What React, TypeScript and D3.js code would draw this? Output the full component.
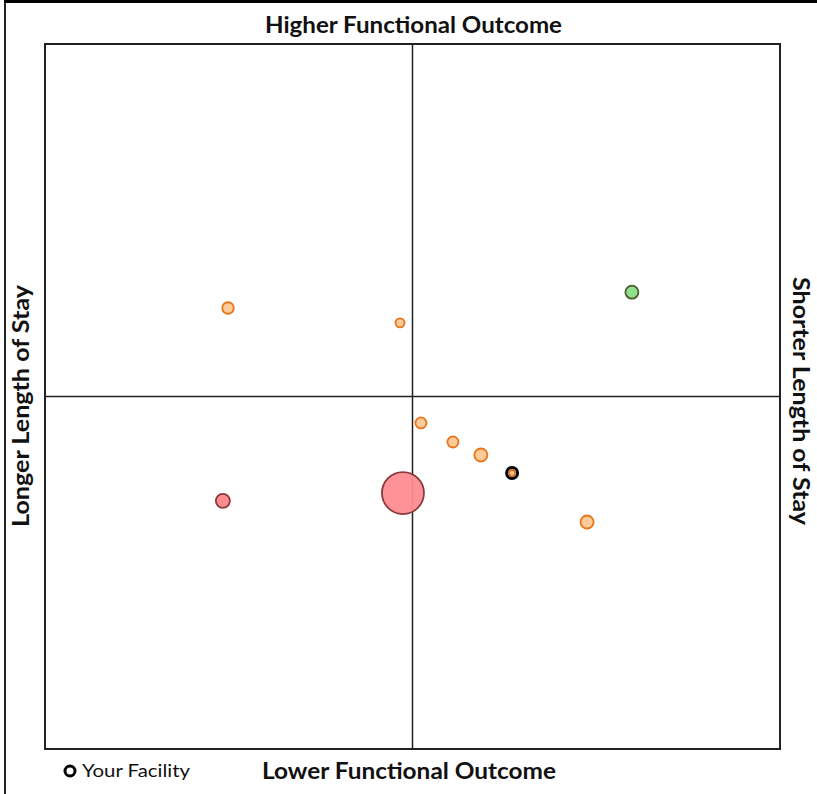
import React from "react";
import * as d3 from "d3";

// facility values: functional outcome (x) vs length of stay (y), bubble size
const names = ["F1", "F2", "F3", "F4", "F5", "F6", "You", "F8", "F9", "F10"];
const outcome = [-50.2, -3.4, 59.7, 2.3, 11.0, 18.6, 27.1, 47.5, -2.6, -51.6];
const stay = [25.1, 20.9, 29.6, -7.5, -12.9, -16.6, -21.7, -35.6, -27.4, -29.6];
const sizes = [7.6, 4.6, 9.6, 6.9, 6.9, 9.6, 2.0, 9.6, 100, 11.1];
const groups = ["mid", "mid", "good", "mid", "mid", "mid", "mid", "mid", "poor", "poor"];
const yourFacility = "You";

const palette: Record<string, { fill: string; stroke: string }> = {
  good: { fill: "#8ee08e", stroke: "#4f5e2e" },
  mid: { fill: "#ffcc99", stroke: "#e8751a" },
  poor: { fill: "#ff8c91", stroke: "#8b3a3e" },
};

const W = 817;
const H = 794;
const margin = { top: 44, right: 37, bottom: 45, left: 45 };
const font = "Lato, 'Open Sans', sans-serif";

export default function App() {
  const x = d3.scaleLinear().domain([-100, 100]).range([margin.left, W - margin.right]);
  const y = d3.scaleLinear().domain([-100, 100]).range([H - margin.bottom, margin.top]);
  const r = d3.scaleSqrt().domain([0, 100]).range([0, 21]);

  const pts = names.map((n, i) => ({
    name: n,
    x: outcome[i],
    y: stay[i],
    size: sizes[i],
    group: groups[i],
  }));
  const order = pts.slice().sort((a, b) => b.size - a.size);
  const you = pts.find((p) => p.name === yourFacility)!;

  const cx = x(0);
  const cy = y(0);

  const label = {
    fontFamily: font,
    fontWeight: "bold" as const,
    fontSize: 22,
    fill: "#111",
    textAnchor: "middle" as const,
    lengthAdjust: "spacingAndGlyphs" as const,
  };

  return (
    <svg
      width={W}
      height={H}
      style={{ position: "absolute", left: 0, top: 0, background: "#fff" }}
    >
      {/* outer frame, clipped by the window */}
      <line x1={5} y1={1} x2={5} y2={H} stroke="#222" strokeWidth={2} />
      <line x1={4} y1={1.5} x2={W} y2={1.5} stroke="#000" strokeWidth={3} />

      <rect
        x={margin.left}
        y={margin.top}
        width={W - margin.left - margin.right}
        height={H - margin.top - margin.bottom}
        fill="none"
        stroke="#222"
        strokeWidth={2}
      />
      <line x1={cx} y1={margin.top} x2={cx} y2={H - margin.bottom} stroke="#222" strokeWidth={1.5} />
      <line x1={margin.left} y1={cy} x2={W - margin.right} y2={cy} stroke="#222" strokeWidth={1.5} />

      {order.map((p) => (
        <circle
          key={p.name}
          cx={x(p.x)}
          cy={y(p.y)}
          r={r(p.size)}
          fill={palette[p.group].fill}
          fillOpacity={p.size > 50 ? 0.95 : 1}
          stroke={palette[p.group].stroke}
          strokeWidth={1.8}
        />
      ))}
      <circle cx={x(you.x)} cy={y(you.y)} r={5.5} fill="none" stroke="#000" strokeWidth={3} />

      <text {...label} x={413.5} y={33} textLength={297}>
        Higher Functional Outcome
      </text>
      <text {...label} x={409} y={779} textLength={294}>
        Lower Functional Outcome
      </text>
      <text {...label} transform="translate(29,406) rotate(-90)" textLength={242}>
        Longer Length of Stay
      </text>
      <text {...label} transform="translate(793,401) rotate(90)" textLength={248}>
        Shorter Length of Stay
      </text>

      <circle cx={70} cy={771} r={5} fill="none" stroke="#000" strokeWidth={3} />
      <text
        x={82}
        y={777}
        fontFamily={font}
        fontWeight={400}
        fontSize={17}
        fill="#111"
        textLength={108}
        lengthAdjust="spacingAndGlyphs"
      >
        Your Facility
      </text>
    </svg>
  );
}
